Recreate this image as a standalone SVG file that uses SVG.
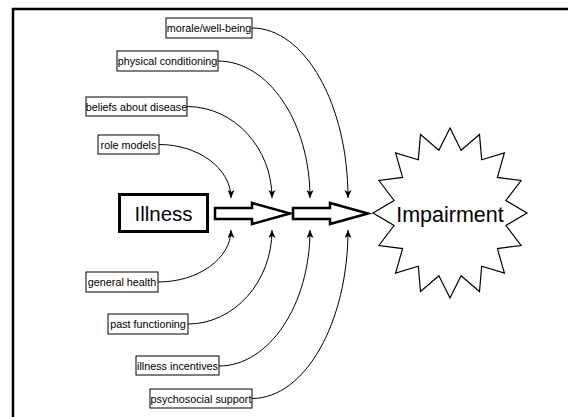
<svg xmlns="http://www.w3.org/2000/svg" width="568" height="417" viewBox="0 0 568 417">
<style>
.lbl rect{fill:#fff;stroke:#000;stroke-width:1}
.lbl text{font-family:"Liberation Sans",Arial,sans-serif;font-size:10.8px;text-anchor:middle;fill:#000}
.conn path{fill:none;stroke:#000;stroke-width:1;marker-end:url(#ah)}
.big{font-family:"Liberation Sans",Arial,sans-serif;text-anchor:middle;fill:#000}
.blk{fill:#fff;stroke:#000;stroke-width:2.5;stroke-linejoin:miter}
</style>
<defs>
<marker id="ah" markerUnits="userSpaceOnUse" markerWidth="9" markerHeight="8" refX="8" refY="3.5" orient="auto">
<path d="M0,0 L8,3.5 L0,7 L2,3.5 Z" fill="#000"/>
</marker>
</defs>
<rect width="568" height="417" fill="#fff"/>
<g id="frame" fill="none" stroke="#000" stroke-width="2.5">
<path d="M13,417 L13,9 L568,9"/>
</g>
<g id="illness">
<rect x="119.5" y="194.5" width="88" height="37" fill="#fff" stroke="#000" stroke-width="3"/>
<text class="big" x="163.5" y="221" font-size="20.5">Illness</text>
</g>
<g id="arrow1"><path class="blk" d="M215,208 L252,208 L252,203 L290,213.5 L252,224 L252,219 L215,219 Z"/></g>
<g id="arrow2"><path class="blk" d="M293,208 L330,208 L330,203 L368,213.5 L330,224 L330,219 L293,219 Z"/></g>
<g id="impairment">
<polygon fill="#fff" stroke="#000" stroke-width="1.2" points="450,128 461.1,150.2 479.5,134.5 481.7,159.8 504.4,152.9 497.4,177.4 521.1,180.5 505.9,200.5 527,213 505.9,225.5 521.1,245.5 497.4,248.6 504.4,273.1 481.7,266.2 479.5,291.5 461.1,275.8 450,298 438.9,275.8 420.5,291.5 418.3,266.2 395.6,273.1 402.6,248.6 378.9,245.5 394.1,225.5 373,213 394.1,200.5 378.9,180.5 402.6,177.4 395.6,152.9 418.3,159.8 420.5,134.5 438.9,150.2"/>
<text class="big" x="450" y="222" font-size="21.5">Impairment</text>
</g>
<g id="morale" class="lbl"><rect x="166" y="18" width="86" height="20"/><text x="209" y="32">morale/well-being</text></g>
<g id="physical" class="lbl"><rect x="117" y="51" width="101" height="20"/><text x="167.5" y="65">physical conditioning</text></g>
<g id="beliefs" class="lbl"><rect x="86" y="97" width="101" height="19"/><text x="136.5" y="110.5">beliefs about disease</text></g>
<g id="role" class="lbl"><rect x="98" y="135" width="61" height="19"/><text x="128.5" y="148.5">role models</text></g>
<g id="general" class="lbl"><rect x="86" y="272" width="72" height="20"/><text x="122" y="286">general health</text></g>
<g id="past" class="lbl"><rect x="108" y="314" width="80" height="20"/><text x="148" y="328">past functioning</text></g>
<g id="incentives" class="lbl"><rect x="136" y="356" width="83" height="19"/><text x="177.5" y="369.5">illness incentives</text></g>
<g id="psychosocial" class="lbl"><rect x="150" y="389" width="102" height="19"/><text x="201" y="402.5">psychosocial support</text></g>
<g id="connectors" class="conn">
<path d="M159,144.5 C198.6,144.5 231,168.6 231,198"/>
<path d="M187,106.5 C233.8,106.5 272,147.7 272,198"/>
<path d="M218,61 C268.6,61 310,122.6 310,198"/>
<path d="M252,28 C304.8,28 348,104.5 348,198"/>
<path d="M158,282 C198.2,282 231,258.6 231,230"/>
<path d="M188,324 C234.2,324 272,281.7 272,230"/>
<path d="M219,366 C269,366 310,304.8 310,230"/>
<path d="M252,398.5 C304.8,398.5 348,322.7 348,230"/>
</g>
</svg>
